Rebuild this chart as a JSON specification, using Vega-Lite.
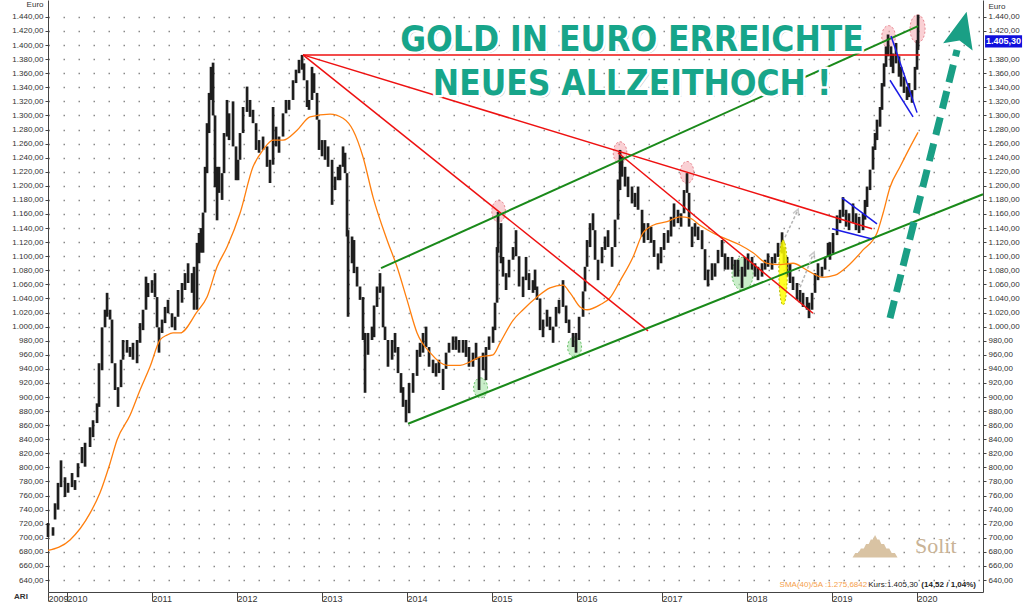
{
"$schema":"https://vega.github.io/schema/vega-lite/v6.json",
"width":935,"height":592,
"autosize":{"type":"none"},
"padding":{"left":48,"right":41,"top":0,"bottom":10},
"background":"white",
"config":{"view":{"stroke":null},"font":"Liberation Sans"},
"resolve":{"axis":{"x":"independent","y":"independent"}},
"datasets":{
"price":[
{"t":2009.776,"l":701,"h":721},{"t":2009.835,"l":703,"h":715},{"t":2009.859,"l":726,"h":749},{"t":2009.894,"l":740,"h":778},{"t":2009.929,"l":772,"h":810},{"t":2009.976,"l":758,"h":786},{"t":2010.012,"l":764,"h":778},{"t":2010.059,"l":772,"h":792},{"t":2010.094,"l":768,"h":782},{"t":2010.129,"l":786,"h":806},{"t":2010.176,"l":806,"h":829},{"t":2010.212,"l":801,"h":835},{"t":2010.271,"l":829,"h":857},{"t":2010.306,"l":843,"h":867},{"t":2010.353,"l":863,"h":891},{"t":2010.376,"l":886,"h":948},{"t":2010.412,"l":938,"h":999},{"t":2010.447,"l":999,"h":1024},{"t":2010.471,"l":1014,"h":1048},{"t":2010.506,"l":1010,"h":1024},{"t":2010.529,"l":948,"h":1010},{"t":2010.565,"l":910,"h":948},{"t":2010.6,"l":886,"h":914},{"t":2010.635,"l":914,"h":953},{"t":2010.659,"l":953,"h":981},{"t":2010.706,"l":963,"h":981},{"t":2010.741,"l":957,"h":971},{"t":2010.776,"l":953,"h":977},{"t":2010.824,"l":948,"h":981},{"t":2010.859,"l":977,"h":1005},{"t":2010.894,"l":995,"h":1024},{"t":2010.929,"l":1024,"h":1071},{"t":2010.953,"l":1042,"h":1062},{"t":2011.0,"l":1048,"h":1066},{"t":2011.035,"l":1042,"h":1076},{"t":2011.059,"l":999,"h":1042},{"t":2011.082,"l":963,"h":999},{"t":2011.118,"l":991,"h":1010},{"t":2011.153,"l":1005,"h":1028},{"t":2011.188,"l":1019,"h":1038},{"t":2011.235,"l":999,"h":1019},{"t":2011.271,"l":995,"h":1014},{"t":2011.306,"l":1014,"h":1052},{"t":2011.353,"l":1034,"h":1062},{"t":2011.388,"l":1052,"h":1076},{"t":2011.424,"l":1062,"h":1090},{"t":2011.471,"l":1048,"h":1076},{"t":2011.494,"l":1024,"h":1085},{"t":2011.529,"l":1024,"h":1119},{"t":2011.553,"l":1090,"h":1133},{"t":2011.576,"l":1105,"h":1140},{"t":2011.6,"l":1105,"h":1162},{"t":2011.624,"l":1162,"h":1227},{"t":2011.647,"l":1218,"h":1289},{"t":2011.671,"l":1275,"h":1332},{"t":2011.694,"l":1322,"h":1369},{"t":2011.718,"l":1300,"h":1375},{"t":2011.741,"l":1198,"h":1300},{"t":2011.765,"l":1151,"h":1227},{"t":2011.788,"l":1190,"h":1227},{"t":2011.824,"l":1180,"h":1218},{"t":2011.847,"l":1218,"h":1275},{"t":2011.882,"l":1270,"h":1322},{"t":2011.906,"l":1265,"h":1303},{"t":2011.953,"l":1256,"h":1320},{"t":2011.988,"l":1208,"h":1256},{"t":2012.012,"l":1208,"h":1237},{"t":2012.035,"l":1237,"h":1275},{"t":2012.071,"l":1275,"h":1312},{"t":2012.118,"l":1305,"h":1341},{"t":2012.153,"l":1298,"h":1322},{"t":2012.188,"l":1289,"h":1308},{"t":2012.224,"l":1251,"h":1289},{"t":2012.259,"l":1247,"h":1265},{"t":2012.306,"l":1251,"h":1270},{"t":2012.353,"l":1227,"h":1256},{"t":2012.388,"l":1204,"h":1237},{"t":2012.424,"l":1230,"h":1312},{"t":2012.459,"l":1256,"h":1284},{"t":2012.494,"l":1247,"h":1270},{"t":2012.541,"l":1270,"h":1303},{"t":2012.576,"l":1303,"h":1322},{"t":2012.612,"l":1308,"h":1322},{"t":2012.659,"l":1322,"h":1350},{"t":2012.694,"l":1346,"h":1365},{"t":2012.729,"l":1360,"h":1379},{"t":2012.765,"l":1365,"h":1386},{"t":2012.788,"l":1350,"h":1374},{"t":2012.824,"l":1312,"h":1350},{"t":2012.847,"l":1308,"h":1322},{"t":2012.882,"l":1322,"h":1369},{"t":2012.906,"l":1332,"h":1360},{"t":2012.941,"l":1294,"h":1332},{"t":2012.965,"l":1251,"h":1294},{"t":2013.0,"l":1242,"h":1265},{"t":2013.035,"l":1237,"h":1265},{"t":2013.071,"l":1227,"h":1256},{"t":2013.118,"l":1173,"h":1237},{"t":2013.153,"l":1194,"h":1213},{"t":2013.188,"l":1208,"h":1227},{"t":2013.212,"l":1208,"h":1230},{"t":2013.247,"l":1227,"h":1256},{"t":2013.271,"l":1218,"h":1247},{"t":2013.294,"l":1128,"h":1218},{"t":2013.306,"l":1014,"h":1137},{"t":2013.353,"l":1090,"h":1128},{"t":2013.376,"l":1076,"h":1123},{"t":2013.412,"l":1057,"h":1085},{"t":2013.447,"l":1038,"h":1057},{"t":2013.482,"l":981,"h":1042},{"t":2013.506,"l":906,"h":991},{"t":2013.541,"l":960,"h":991},{"t":2013.588,"l":981,"h":1000},{"t":2013.612,"l":985,"h":1030},{"t":2013.647,"l":1028,"h":1057},{"t":2013.682,"l":1048,"h":1076},{"t":2013.718,"l":999,"h":1057},{"t":2013.741,"l":981,"h":1000},{"t":2013.776,"l":943,"h":981},{"t":2013.824,"l":953,"h":981},{"t":2013.859,"l":963,"h":991},{"t":2013.894,"l":934,"h":971},{"t":2013.929,"l":906,"h":934},{"t":2013.953,"l":886,"h":914},{"t":2013.988,"l":864,"h":896},{"t":2014.024,"l":877,"h":920},{"t":2014.071,"l":906,"h":934},{"t":2014.118,"l":930,"h":967},{"t":2014.153,"l":957,"h":977},{"t":2014.188,"l":963,"h":991},{"t":2014.224,"l":971,"h":1000},{"t":2014.259,"l":943,"h":971},{"t":2014.306,"l":934,"h":953},{"t":2014.341,"l":929,"h":948},{"t":2014.376,"l":934,"h":953},{"t":2014.424,"l":910,"h":940},{"t":2014.459,"l":940,"h":963},{"t":2014.494,"l":963,"h":977},{"t":2014.541,"l":967,"h":986},{"t":2014.576,"l":967,"h":986},{"t":2014.612,"l":963,"h":981},{"t":2014.659,"l":963,"h":981},{"t":2014.694,"l":957,"h":981},{"t":2014.729,"l":943,"h":971},{"t":2014.776,"l":943,"h":963},{"t":2014.812,"l":953,"h":977},{"t":2014.847,"l":910,"h":957},{"t":2014.894,"l":938,"h":963},{"t":2014.929,"l":924,"h":971},{"t":2014.965,"l":967,"h":986},{"t":2015.012,"l":977,"h":1000},{"t":2015.035,"l":995,"h":1034},{"t":2015.059,"l":1034,"h":1113},{"t":2015.071,"l":1105,"h":1163},{"t":2015.106,"l":1090,"h":1147},{"t":2015.129,"l":1071,"h":1099},{"t":2015.165,"l":1052,"h":1076},{"t":2015.2,"l":1070,"h":1095},{"t":2015.247,"l":1095,"h":1113},{"t":2015.282,"l":1100,"h":1137},{"t":2015.318,"l":1057,"h":1100},{"t":2015.365,"l":1042,"h":1071},{"t":2015.4,"l":1066,"h":1099},{"t":2015.435,"l":1052,"h":1076},{"t":2015.482,"l":1048,"h":1066},{"t":2015.506,"l":1052,"h":1081},{"t":2015.529,"l":1038,"h":1057},{"t":2015.565,"l":995,"h":1040},{"t":2015.6,"l":985,"h":1010},{"t":2015.647,"l":1000,"h":1024},{"t":2015.682,"l":995,"h":1014},{"t":2015.718,"l":977,"h":1000},{"t":2015.753,"l":1000,"h":1028},{"t":2015.788,"l":1019,"h":1038},{"t":2015.835,"l":1028,"h":1066},{"t":2015.871,"l":1005,"h":1030},{"t":2015.906,"l":991,"h":1010},{"t":2015.953,"l":971,"h":991},{"t":2015.988,"l":963,"h":991},{"t":2016.024,"l":981,"h":1014},{"t":2016.071,"l":1014,"h":1050},{"t":2016.094,"l":1050,"h":1085},{"t":2016.118,"l":1085,"h":1123},{"t":2016.153,"l":1113,"h":1147},{"t":2016.188,"l":1137,"h":1161},{"t":2016.212,"l":1095,"h":1137},{"t":2016.247,"l":1066,"h":1095},{"t":2016.294,"l":1090,"h":1113},{"t":2016.329,"l":1109,"h":1128},{"t":2016.365,"l":1113,"h":1137},{"t":2016.412,"l":1085,"h":1113},{"t":2016.447,"l":1113,"h":1152},{"t":2016.482,"l":1152,"h":1209},{"t":2016.506,"l":1194,"h":1251},{"t":2016.529,"l":1213,"h":1241},{"t":2016.565,"l":1199,"h":1227},{"t":2016.6,"l":1184,"h":1213},{"t":2016.647,"l":1175,"h":1199},{"t":2016.682,"l":1170,"h":1190},{"t":2016.718,"l":1166,"h":1199},{"t":2016.765,"l":1128,"h":1166},{"t":2016.788,"l":1119,"h":1147},{"t":2016.835,"l":1123,"h":1147},{"t":2016.871,"l":1119,"h":1142},{"t":2016.906,"l":1099,"h":1123},{"t":2016.953,"l":1081,"h":1104},{"t":2016.988,"l":1090,"h":1113},{"t":2017.024,"l":1109,"h":1133},{"t":2017.071,"l":1119,"h":1137},{"t":2017.106,"l":1128,"h":1156},{"t":2017.141,"l":1142,"h":1175},{"t":2017.188,"l":1147,"h":1166},{"t":2017.224,"l":1142,"h":1161},{"t":2017.259,"l":1161,"h":1194},{"t":2017.294,"l":1190,"h":1218},{"t":2017.318,"l":1142,"h":1190},{"t":2017.353,"l":1113,"h":1142},{"t":2017.388,"l":1128,"h":1147},{"t":2017.424,"l":1123,"h":1142},{"t":2017.471,"l":1110,"h":1137},{"t":2017.506,"l":1066,"h":1110},{"t":2017.541,"l":1057,"h":1081},{"t":2017.588,"l":1066,"h":1090},{"t":2017.624,"l":1071,"h":1090},{"t":2017.659,"l":1090,"h":1109},{"t":2017.706,"l":1099,"h":1123},{"t":2017.741,"l":1081,"h":1104},{"t":2017.776,"l":1081,"h":1099},{"t":2017.824,"l":1081,"h":1099},{"t":2017.859,"l":1071,"h":1095},{"t":2017.894,"l":1071,"h":1095},{"t":2017.941,"l":1055,"h":1085},{"t":2017.976,"l":1071,"h":1099},{"t":2018.012,"l":1081,"h":1104},{"t":2018.059,"l":1081,"h":1099},{"t":2018.094,"l":1071,"h":1090},{"t":2018.129,"l":1066,"h":1085},{"t":2018.176,"l":1071,"h":1090},{"t":2018.212,"l":1081,"h":1095},{"t":2018.247,"l":1085,"h":1104},{"t":2018.294,"l":1081,"h":1099},{"t":2018.329,"l":1090,"h":1104},{"t":2018.365,"l":1099,"h":1119},{"t":2018.412,"l":1104,"h":1134},{"t":2018.435,"l":1090,"h":1113},{"t":2018.471,"l":1071,"h":1099},{"t":2018.506,"l":1062,"h":1090},{"t":2018.541,"l":1052,"h":1071},{"t":2018.588,"l":1038,"h":1062},{"t":2018.624,"l":1034,"h":1052},{"t":2018.659,"l":1028,"h":1048},{"t":2018.706,"l":1024,"h":1042},{"t":2018.729,"l":1012,"h":1034},{"t":2018.765,"l":1024,"h":1048},{"t":2018.8,"l":1048,"h":1076},{"t":2018.835,"l":1066,"h":1090},{"t":2018.882,"l":1071,"h":1085},{"t":2018.918,"l":1081,"h":1099},{"t":2018.953,"l":1099,"h":1119},{"t":2018.976,"l":1095,"h":1120},{"t":2019.012,"l":1104,"h":1133},{"t":2019.059,"l":1130,"h":1158},{"t":2019.094,"l":1147,"h":1166},{"t":2019.129,"l":1156,"h":1184},{"t":2019.165,"l":1142,"h":1166},{"t":2019.2,"l":1137,"h":1161},{"t":2019.247,"l":1147,"h":1175},{"t":2019.282,"l":1137,"h":1161},{"t":2019.318,"l":1133,"h":1156},{"t":2019.365,"l":1137,"h":1161},{"t":2019.388,"l":1152,"h":1180},{"t":2019.412,"l":1170,"h":1199},{"t":2019.447,"l":1194,"h":1223},{"t":2019.482,"l":1223,"h":1256},{"t":2019.506,"l":1251,"h":1275},{"t":2019.529,"l":1265,"h":1294},{"t":2019.565,"l":1284,"h":1312},{"t":2019.588,"l":1308,"h":1346},{"t":2019.612,"l":1341,"h":1374},{"t":2019.635,"l":1369,"h":1398},{"t":2019.659,"l":1384,"h":1415},{"t":2019.694,"l":1369,"h":1398},{"t":2019.718,"l":1360,"h":1388},{"t":2019.753,"l":1374,"h":1403},{"t":2019.788,"l":1355,"h":1384},{"t":2019.812,"l":1341,"h":1369},{"t":2019.847,"l":1332,"h":1355},{"t":2019.882,"l":1322,"h":1341},{"t":2019.906,"l":1326,"h":1346},{"t":2019.941,"l":1318,"h":1336},{"t":2019.976,"l":1336,"h":1369},{"t":2020.0,"l":1365,"h":1407},{"t":2020.012,"l":1393,"h":1443}
],
"sma":[
{"t":2009.776,"v":682},{"t":2010.035,"v":697},{"t":2010.271,"v":735},{"t":2010.388,"v":764},{"t":2010.506,"v":806},{"t":2010.588,"v":839},{"t":2010.741,"v":874},{"t":2010.859,"v":910},{"t":2010.976,"v":943},{"t":2011.094,"v":981},{"t":2011.176,"v":988},{"t":2011.247,"v":991},{"t":2011.329,"v":991},{"t":2011.529,"v":1021},{"t":2011.647,"v":1042},{"t":2011.765,"v":1085},{"t":2011.882,"v":1113},{"t":2012.035,"v":1161},{"t":2012.188,"v":1227},{"t":2012.306,"v":1251},{"t":2012.424,"v":1265},{"t":2012.541,"v":1265},{"t":2012.706,"v":1279},{"t":2012.859,"v":1298},{"t":2013.094,"v":1302},{"t":2013.247,"v":1296},{"t":2013.365,"v":1279},{"t":2013.482,"v":1241},{"t":2013.6,"v":1184},{"t":2013.765,"v":1123},{"t":2013.882,"v":1085},{"t":2014.0,"v":1038},{"t":2014.118,"v":991},{"t":2014.271,"v":963},{"t":2014.471,"v":945},{"t":2014.624,"v":945},{"t":2014.741,"v":950},{"t":2014.859,"v":957},{"t":2015.012,"v":960},{"t":2015.094,"v":977},{"t":2015.247,"v":1009},{"t":2015.365,"v":1024},{"t":2015.529,"v":1042},{"t":2015.682,"v":1055},{"t":2015.835,"v":1059},{"t":2015.918,"v":1048},{"t":2016.035,"v":1028},{"t":2016.118,"v":1024},{"t":2016.271,"v":1031},{"t":2016.388,"v":1041},{"t":2016.506,"v":1065},{"t":2016.659,"v":1099},{"t":2016.776,"v":1133},{"t":2016.894,"v":1144},{"t":2017.059,"v":1149},{"t":2017.212,"v":1156},{"t":2017.329,"v":1154},{"t":2017.447,"v":1144},{"t":2017.6,"v":1133},{"t":2017.765,"v":1124},{"t":2017.918,"v":1116},{"t":2018.071,"v":1105},{"t":2018.235,"v":1090},{"t":2018.388,"v":1088},{"t":2018.541,"v":1090},{"t":2018.706,"v":1080},{"t":2018.894,"v":1070},{"t":2019.035,"v":1073},{"t":2019.176,"v":1085},{"t":2019.365,"v":1109},{"t":2019.529,"v":1133},{"t":2019.6,"v":1161},{"t":2019.682,"v":1198},{"t":2019.8,"v":1227},{"t":2019.918,"v":1255},{"t":2020.012,"v":1276}
],
"lines":[
{"g":"r1","c":"red","t":2012.776,"v":1386},{"g":"r1","c":"red","t":2020.035,"v":1386},
{"g":"r2","c":"red","t":2012.776,"v":1386},{"g":"r2","c":"red","t":2019.471,"v":1139},
{"g":"r3","c":"red","t":2012.776,"v":1386},{"g":"r3","c":"red","t":2016.835,"v":994},
{"g":"r4","c":"red","t":2016.482,"v":1247},{"g":"r4","c":"red","t":2018.776,"v":1019},
{"g":"g1","c":"green","t":2013.694,"v":1083},{"g":"g1","c":"green","t":2020.012,"v":1427},
{"g":"g2","c":"green","t":2014.012,"v":862},{"g":"g2","c":"green","t":2020.776,"v":1188},
{"g":"b1","c":"blue","t":2019.118,"v":1183},{"g":"b1","c":"blue","t":2019.529,"v":1146},
{"g":"b2","c":"blue","t":2019.0,"v":1139},{"g":"b2","c":"blue","t":2019.471,"v":1124.5},
{"g":"b3","c":"blue","t":2019.694,"v":1413},{"g":"b3","c":"blue","t":2020.0,"v":1304},
{"g":"b4","c":"blue","t":2019.682,"v":1350},{"g":"b4","c":"blue","t":2019.953,"v":1298},
{"g":"a1","c":"gray","t":2018.447,"v":1127},{"g":"a1","c":"gray","t":2018.588,"v":1163},
{"g":"a2","c":"gray","t":2018.624,"v":1056},{"g":"a2","c":"gray","t":2018.776,"v":1102},
{"g":"big","c":"teal","t":2019.682,"v":1012},{"g":"big","c":"teal","t":2020.471,"v":1393}
],
"spots":[
{"k":"pink","t":2015.077,"v":1164},{"k":"pink","t":2016.506,"v":1247},{"k":"pink","t":2017.294,"v":1219},{"k":"pink","t":2019.665,"v":1412},
{"k":"pinktall","t":2020.006,"v":1423},
{"k":"green","t":2014.865,"v":913},{"k":"green","t":2015.971,"v":971},
{"k":"greenbig","t":2017.947,"v":1075},
{"k":"yellow","t":2018.424,"v":1077}
]
},
"layer":[
{"data":{"name":"spots"},"transform":[{"filter":"datum.k=='pink'"}],
 "mark":{"type":"point","filled":true,"shape":"M0,-1A0.62,1 0 1,1 0,1A0.62,1 0 1,1 0,-1Z","size":484,"fill":"#f6a9b0","fillOpacity":0.55,"stroke":"#e0707c","strokeDash":[2,2],"strokeWidth":1,"strokeOpacity":0.8},
 "encoding":{"x":{"field":"t","type":"quantitative","scale":{"domain":[2009.776,2020.776],"nice":false,"zero":false},
   "axis":{"orient":"bottom","values":[2009.776,2010,2011,2012,2013,2014,2015,2016,2017,2018,2019,2020],"labelExpr":"datum.value < 2009.9 ? '2009' : '' + round(datum.value)","grid":false,"ticks":true,"tickSize":9,"tickColor":"#444","domain":true,"domainColor":"#444","labelAlign":"left","labelBaseline":"top","labelPadding":-7,"labelDx":2,"labelFontSize":9,"labelColor":"#333","labelFlush":false,"labelOverlap":false,"labelBound":false,"title":null}},
  "y":{"field":"v","type":"quantitative","scale":{"domain":[623,1464],"nice":false,"zero":false},
   "axis":{"orient":"left","values":[640,660,680,700,720,740,760,780,800,820,840,860,880,900,920,940,960,980,1000,1020,1040,1060,1080,1100,1120,1140,1160,1180,1200,1220,1240,1260,1280,1300,1320,1340,1360,1380,1400,1420,1440],"labelExpr":"replace(replace(replace(format(datum.value, ',.2f'), ',', '_'), '.', ','), '_', '.')","tickSize":3,"labelPadding":2,"labelFontSize":8,"labelColor":"#333","domainColor":"#444","tickColor":"#444","labelOverlap":false,"grid":true,"gridDash":[1.5,13.5],"gridColor":"#8a8a8a","gridWidth":1.5,"title":"Euro","titleAngle":0,"titleX":-5,"titleY":4,"titleAlign":"right","titleBaseline":"middle","titleFontSize":8,"titleFontWeight":"normal","titleColor":"#333"}}}},
{"data":{"name":"spots"},"transform":[{"filter":"datum.k=='pinktall'"}],
 "mark":{"type":"point","filled":true,"shape":"M0,-1A0.54,1 0 1,1 0,1A0.54,1 0 1,1 0,-1Z","size":784,"fill":"#f6a9b0","fillOpacity":0.55,"stroke":"#e0707c","strokeDash":[2,2],"strokeWidth":1,"strokeOpacity":0.8},
 "encoding":{"x":{"field":"t","type":"quantitative","scale":{"domain":[2009.776,2020.776],"nice":false,"zero":false},"axis":null},"y":{"field":"v","type":"quantitative","scale":{"domain":[623,1464],"nice":false,"zero":false},"axis":null}}},
{"data":{"name":"spots"},"transform":[{"filter":"datum.k=='green'"}],
 "mark":{"type":"point","filled":true,"shape":"M0,-1A0.7,1 0 1,1 0,1A0.7,1 0 1,1 0,-1Z","size":400,"fill":"#a6e3a6","fillOpacity":0.6,"stroke":"#6cc06c","strokeDash":[2,2],"strokeWidth":1},
 "encoding":{"x":{"field":"t","type":"quantitative","scale":{"domain":[2009.776,2020.776],"nice":false,"zero":false},"axis":null},"y":{"field":"v","type":"quantitative","scale":{"domain":[623,1464],"nice":false,"zero":false},"axis":null}}},
{"data":{"name":"spots"},"transform":[{"filter":"datum.k=='greenbig'"}],
 "mark":{"type":"point","filled":true,"shape":"M0,-1A0.64,1 0 1,1 0,1A0.64,1 0 1,1 0,-1Z","size":1089,"fill":"#a6e3a6","fillOpacity":0.6,"stroke":"#6cc06c","strokeDash":[2,2],"strokeWidth":1},
 "encoding":{"x":{"field":"t","type":"quantitative","scale":{"domain":[2009.776,2020.776],"nice":false,"zero":false},"axis":null},"y":{"field":"v","type":"quantitative","scale":{"domain":[623,1464],"nice":false,"zero":false},"axis":null}}},
{"data":{"name":"price"},
 "mark":{"type":"rule","color":"#1e1e1e","strokeWidth":2.7},
 "encoding":{"x":{"field":"t","type":"quantitative","scale":{"domain":[2009.776,2020.776],"nice":false,"zero":false},"axis":null},"y":{"field":"l","type":"quantitative","scale":{"domain":[623,1464],"nice":false,"zero":false},"axis":null},"y2":{"field":"h"}}},
{"data":{"name":"spots"},"transform":[{"filter":"datum.k=='yellow'"}],
 "mark":{"type":"point","filled":true,"shape":"M0,-1A0.13,1 0 1,1 0,1A0.13,1 0 1,1 0,-1Z","size":4225,"fill":"#ffff00","fillOpacity":0.85,"stroke":"#b8b800","strokeDash":[2,2],"strokeWidth":1},
 "encoding":{"x":{"field":"t","type":"quantitative","scale":{"domain":[2009.776,2020.776],"nice":false,"zero":false},"axis":null},"y":{"field":"v","type":"quantitative","scale":{"domain":[623,1464],"nice":false,"zero":false},"axis":null}}},
{"data":{"name":"sma"},
 "mark":{"type":"line","color":"#ff7f0e","strokeWidth":1.3,"interpolate":"monotone"},
 "encoding":{"x":{"field":"t","type":"quantitative","scale":{"domain":[2009.776,2020.776],"nice":false,"zero":false},"axis":null},
  "y":{"field":"v","type":"quantitative","scale":{"domain":[623,1464],"nice":false,"zero":false},
   "axis":{"orient":"right","values":[640,660,680,700,720,740,760,780,800,820,840,860,880,900,920,940,960,980,1000,1020,1040,1060,1080,1100,1120,1140,1160,1180,1200,1220,1240,1260,1280,1300,1320,1340,1360,1380,1420,1440],"labelExpr":"replace(replace(replace(format(datum.value, ',.2f'), ',', '_'), '.', ','), '_', '.')","tickSize":3,"labelPadding":2,"labelFontSize":8,"labelColor":"#333","domainColor":"#444","tickColor":"#444","labelOverlap":false,"grid":false,"title":"Euro","titleAngle":0,"titleX":5,"titleY":6,"titleAlign":"left","titleBaseline":"middle","titleFontSize":8,"titleFontWeight":"normal","titleColor":"#333"}}}},
{"data":{"name":"lines"},"transform":[{"filter":"datum.c=='red'"}],
 "mark":{"type":"line","color":"#ee1111","strokeWidth":1.5},
 "encoding":{"detail":{"field":"g"},"x":{"field":"t","type":"quantitative","scale":{"domain":[2009.776,2020.776],"nice":false,"zero":false},"axis":null},"y":{"field":"v","type":"quantitative","scale":{"domain":[623,1464],"nice":false,"zero":false},"axis":null}}},
{"data":{"name":"lines"},"transform":[{"filter":"datum.c=='green'"}],
 "mark":{"type":"line","color":"#1a8a1a","strokeWidth":2},
 "encoding":{"detail":{"field":"g"},"x":{"field":"t","type":"quantitative","scale":{"domain":[2009.776,2020.776],"nice":false,"zero":false},"axis":null},"y":{"field":"v","type":"quantitative","scale":{"domain":[623,1464],"nice":false,"zero":false},"axis":null}}},
{"data":{"name":"lines"},"transform":[{"filter":"datum.c=='blue'"}],
 "mark":{"type":"line","color":"#1a1ae6","strokeWidth":1.5},
 "encoding":{"detail":{"field":"g"},"x":{"field":"t","type":"quantitative","scale":{"domain":[2009.776,2020.776],"nice":false,"zero":false},"axis":null},"y":{"field":"v","type":"quantitative","scale":{"domain":[623,1464],"nice":false,"zero":false},"axis":null}}},
{"data":{"name":"lines"},"transform":[{"filter":"datum.c=='gray'"}],
 "mark":{"type":"line","color":"#b4b4b4","strokeWidth":1.5,"strokeDash":[3,2]},
 "encoding":{"detail":{"field":"g"},"x":{"field":"t","type":"quantitative","scale":{"domain":[2009.776,2020.776],"nice":false,"zero":false},"axis":null},"y":{"field":"v","type":"quantitative","scale":{"domain":[623,1464],"nice":false,"zero":false},"axis":null}}},
{"data":{"values":[{"t":2018.588,"v":1163},{"t":2018.776,"v":1102}]},
 "mark":{"type":"point","shape":"M-0.6,0.6L0,-0.6L0.6,0.6","filled":false,"stroke":"#b4b4b4","strokeWidth":1.5,"size":100,"angle":24},
 "encoding":{"x":{"field":"t","type":"quantitative","scale":{"domain":[2009.776,2020.776],"nice":false,"zero":false},"axis":null},"y":{"field":"v","type":"quantitative","scale":{"domain":[623,1464],"nice":false,"zero":false},"axis":null}}},
{"data":{"name":"lines"},"transform":[{"filter":"datum.c=='teal'"}],
 "mark":{"type":"line","color":"#1a9f85","strokeWidth":7,"strokeDash":[18,9],"strokeCap":"butt"},
 "encoding":{"detail":{"field":"g"},"x":{"field":"t","type":"quantitative","scale":{"domain":[2009.776,2020.776],"nice":false,"zero":false},"axis":null},"y":{"field":"v","type":"quantitative","scale":{"domain":[623,1464],"nice":false,"zero":false},"axis":null}}},
{"data":{"values":[{"t":2020.529,"v":1421}]},
 "mark":{"type":"point","shape":"M0,-1L0.8,0.9L0,0.55L-0.8,0.9Z","filled":true,"color":"#1a9f85","opacity":1,"size":1444,"angle":14},
 "encoding":{"x":{"field":"t","type":"quantitative","scale":{"domain":[2009.776,2020.776],"nice":false,"zero":false},"axis":null},"y":{"field":"v","type":"quantitative","scale":{"domain":[623,1464],"nice":false,"zero":false},"axis":null}}},
{"data":{"values":[{"t":2016.647,"v":1407,"txt":"GOLD IN EURO ERREICHTE"},{"t":2016.647,"v":1344,"txt":"NEUES ALLZEITHOCH !"}]},
 "mark":{"type":"text","font":"Liberation Sans Narrow, DejaVu Sans Condensed, Liberation Sans","fontWeight":"bold","fontSize":35,"align":"center","baseline":"middle","color":"#555555","opacity":0.55,"dx":2,"dy":2},
 "encoding":{"text":{"field":"txt"},"x":{"field":"t","type":"quantitative","scale":{"domain":[2009.776,2020.776],"nice":false,"zero":false},"axis":null},"y":{"field":"v","type":"quantitative","scale":{"domain":[623,1464],"nice":false,"zero":false},"axis":null}}},
{"data":{"values":[{"t":2016.647,"v":1407,"txt":"GOLD IN EURO ERREICHTE"},{"t":2016.647,"v":1344,"txt":"NEUES ALLZEITHOCH !"}]},
 "mark":{"type":"text","font":"Liberation Sans Narrow, DejaVu Sans Condensed, Liberation Sans","fontWeight":"bold","fontSize":35,"align":"center","baseline":"middle","fill":"#ffffff","stroke":"#ffffff","strokeWidth":5,"strokeJoin":"round"},
 "encoding":{"text":{"field":"txt"},"x":{"field":"t","type":"quantitative","scale":{"domain":[2009.776,2020.776],"nice":false,"zero":false},"axis":null},"y":{"field":"v","type":"quantitative","scale":{"domain":[623,1464],"nice":false,"zero":false},"axis":null}}},
{"data":{"values":[{"t":2016.647,"v":1407,"txt":"GOLD IN EURO ERREICHTE"},{"t":2016.647,"v":1344,"txt":"NEUES ALLZEITHOCH !"}]},
 "mark":{"type":"text","font":"Liberation Sans Narrow, DejaVu Sans Condensed, Liberation Sans","fontWeight":"bold","fontSize":35,"align":"center","baseline":"middle","fill":"#17a58a"},
 "encoding":{"text":{"field":"txt"},"x":{"field":"t","type":"quantitative","scale":{"domain":[2009.776,2020.776],"nice":false,"zero":false},"axis":null},"y":{"field":"v","type":"quantitative","scale":{"domain":[623,1464],"nice":false,"zero":false},"axis":null}}},
{"data":{"values":[{"t":2019.506,"v":688}]},
 "mark":{"type":"point","shape":"M-1,0.5L1,0.5L0.88,0.3L0.74,0.3L0.63,0.1L0.5,0.1L0.4,-0.1L0.28,-0.1L0.19,-0.3L0.1,-0.3L0,-0.5L-0.1,-0.3L-0.19,-0.3L-0.28,-0.1L-0.4,-0.1L-0.5,0.1L-0.63,0.1L-0.74,0.3L-0.88,0.3Z","filled":true,"color":"#d9c3a3","opacity":1,"size":2025},
 "encoding":{"x":{"field":"t","type":"quantitative","scale":{"domain":[2009.776,2020.776],"nice":false,"zero":false},"axis":null},"y":{"field":"v","type":"quantitative","scale":{"domain":[623,1464],"nice":false,"zero":false},"axis":null}}},
{"data":{"values":[{"t":2019.976,"v":679,"txt":"Solit"}]},
 "mark":{"type":"text","font":"Liberation Serif","fontSize":22,"align":"left","baseline":"alphabetic","color":"#c9b396"},
 "encoding":{"text":{"field":"txt"},"x":{"field":"t","type":"quantitative","scale":{"domain":[2009.776,2020.776],"nice":false,"zero":false},"axis":null},"y":{"field":"v","type":"quantitative","scale":{"domain":[623,1464],"nice":false,"zero":false},"axis":null}}},
{"data":{"values":[{"t":2019.471,"v":633,"txt":"SMA(40)/5A :1.275,6842 -"}]},
 "mark":{"type":"text","fontSize":8,"align":"right","baseline":"middle","color":"#f5a04c"},
 "encoding":{"text":{"field":"txt"},"x":{"field":"t","type":"quantitative","scale":{"domain":[2009.776,2020.776],"nice":false,"zero":false},"axis":null},"y":{"field":"v","type":"quantitative","scale":{"domain":[623,1464],"nice":false,"zero":false},"axis":null}}},
{"data":{"values":[{"t":2020.012,"v":633,"txt":"Kurs:1.405,30"}]},
 "mark":{"type":"text","fontSize":8,"align":"right","baseline":"middle","color":"#222"},
 "encoding":{"text":{"field":"txt"},"x":{"field":"t","type":"quantitative","scale":{"domain":[2009.776,2020.776],"nice":false,"zero":false},"axis":null},"y":{"field":"v","type":"quantitative","scale":{"domain":[623,1464],"nice":false,"zero":false},"axis":null}}},
{"data":{"values":[{"t":2020.694,"v":633,"txt":"(14,52 / 1,04%)"}]},
 "mark":{"type":"text","fontSize":8,"fontWeight":"bold","align":"right","baseline":"middle","color":"#222"},
 "encoding":{"text":{"field":"txt"},"x":{"field":"t","type":"quantitative","scale":{"domain":[2009.776,2020.776],"nice":false,"zero":false},"axis":null},"y":{"field":"v","type":"quantitative","scale":{"domain":[623,1464],"nice":false,"zero":false},"axis":null}}},
{"data":{"values":[{"t":2009.377,"v":615.5,"txt":"ARI"}]},
 "mark":{"type":"text","fontSize":8,"fontWeight":"bold","align":"left","baseline":"middle","color":"#333"},
 "encoding":{"text":{"field":"txt"},"x":{"field":"t","type":"quantitative","scale":{"domain":[2009.776,2020.776],"nice":false,"zero":false},"axis":null},"y":{"field":"v","type":"quantitative","scale":{"domain":[623,1464],"nice":false,"zero":false},"axis":null}}},
{"data":{"values":[{"t":2021.018,"v":1405.3,"txt":"1.405,30"}]},
 "mark":{"type":"point","shape":"M-1,-0.33L1,-0.33L1,0.33L-1,0.33Z","filled":true,"color":"#1010dc","opacity":1,"size":1369},
 "encoding":{"x":{"field":"t","type":"quantitative","scale":{"domain":[2009.776,2020.776],"nice":false,"zero":false},"axis":null},"y":{"field":"v","type":"quantitative","scale":{"domain":[623,1464],"nice":false,"zero":false},"axis":null}}},
{"data":{"values":[{"t":2021.018,"v":1405.3,"txt":"1.405,30"}]},
 "mark":{"type":"text","fontSize":9,"fontWeight":"bold","align":"center","baseline":"middle","color":"#ffffff"},
 "encoding":{"text":{"field":"txt"},"x":{"field":"t","type":"quantitative","scale":{"domain":[2009.776,2020.776],"nice":false,"zero":false},"axis":null},"y":{"field":"v","type":"quantitative","scale":{"domain":[623,1464],"nice":false,"zero":false},"axis":null}}}
]
}
